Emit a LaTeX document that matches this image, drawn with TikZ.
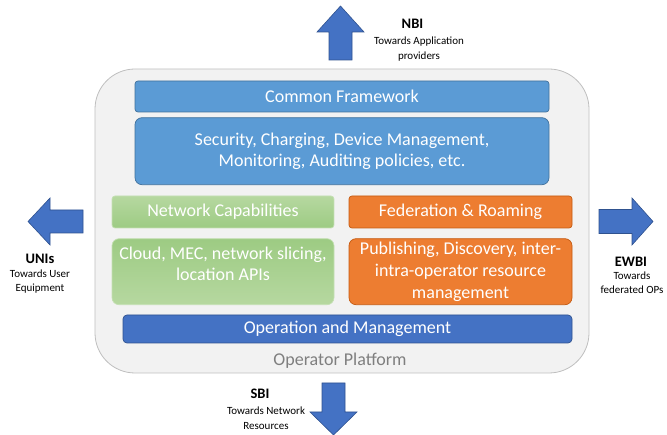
\documentclass[tikz,border=0pt]{standalone}
\usepackage{fontspec}
\setmainfont{Carlito}
\usepackage{xcolor}
\usepackage{tikz}
\usetikzlibrary{positioning}

\definecolor{cfblue}{HTML}{5B9BD5}
\definecolor{cfline}{HTML}{41719C}
\definecolor{omblue}{HTML}{4472C4}
\definecolor{omline}{HTML}{2F528F}
\definecolor{frorange}{HTML}{ED7D31}
\definecolor{frline}{HTML}{C55A11}
\definecolor{ncdark}{HTML}{9DCB83}
\definecolor{nclight}{HTML}{B6D8A0}
\definecolor{ncline}{HTML}{C5E0B4}
\definecolor{opfill}{HTML}{F2F2F2}
\definecolor{opline}{HTML}{BFBFBF}
\definecolor{optext}{HTML}{7F7F7F}

\begin{document}
\begin{tikzpicture}[x=1pt, y=-1pt,
        basebox/.style={draw, line width=0.7pt, text=white, align=center, inner sep=0pt,
            font=\fontsize{18}{21.6}\selectfont},
        headbox/.style={basebox, rounded corners=3pt, minimum height=31pt},
        bodybox/.style={basebox, rounded corners=7pt, minimum height=66pt},
        iftitle/.style={font=\fontsize{14.5}{16}\selectfont\bfseries, inner sep=0pt},
        ifnote/.style={font=\fontsize{11}{14.5}\selectfont, align=center, inner sep=0pt},
        ifarrow/.style={fill=omblue, draw=omline, line width=0.6pt}]
        \useasboundingbox (0,0) rectangle (667,435);

        % operator platform
        \node[draw=opline, fill=opfill, line width=0.8pt, rounded corners=40pt,
            minimum width=494pt, minimum height=304pt] (op) at (342,221) {};
        \node[text=optext, font=\fontsize{18}{21.6}\selectfont] (opname) at (340,361) {Operator Platform};

        \node[headbox, fill=cfblue, draw=cfline, minimum width=414pt] (cf) at (342,96.5) {Common Framework};
        \node[bodybox, fill=cfblue, draw=cfline, minimum width=414pt, minimum height=67pt,
            below=5pt of cf] (sec) {Security, Charging, Device Management,\\Monitoring, Auditing policies, etc.};

        \node[headbox, top color=nclight, bottom color=ncdark, draw=ncline,
            minimum width=222pt, minimum height=32pt] (nc) at (223,212) {Network Capabilities};
        \node[bodybox, top color=ncdark, bottom color=nclight, draw=ncline,
            minimum width=222pt, text depth=16pt, below=10pt of nc] (ncb) {Cloud, MEC, network slicing,\\location APIs};

        \node[headbox, fill=frorange, draw=frline, minimum width=223pt, minimum height=32pt] (fr) at (460.5,212) {Federation \& Roaming};
        \node[bodybox, fill=frorange, draw=frline, minimum width=223pt,
            below=10pt of fr] (frb) {Publishing, Discovery, inter-\\intra-operator resource\\management};

        \node[headbox, fill=omblue, draw=omline, rounded corners=4pt,
            minimum width=449pt, minimum height=28pt] (om) at (347.5,329) {Operation and Management};

        % interfaces
        \draw[ifarrow] (329,60) -- (329,32) -- (317,32) -- (340.5,6) -- (364,32) -- (352,32) -- (352,60) -- cycle;
        \draw[ifarrow] (322,383) -- (345,383) -- (345,412) -- (357,412) -- (333.5,435) -- (310,412) -- (322,412) -- cycle;
        \draw[ifarrow] (83,210) -- (50,210) -- (50,198) -- (28,221.5) -- (50,245) -- (50,233) -- (83,233) -- cycle;
        \draw[ifarrow] (599,209.5) -- (632,209.5) -- (632,198) -- (653,221.5) -- (632,245) -- (632,233.5) -- (599,233.5) -- cycle;

        \node[iftitle] (nbi) at (412.5,24) {NBI};
        \node[ifnote] (nbinote) at (419,49) {Towards Application\\providers};
        \node[iftitle] (sbi) at (260,394) {SBI};
        \node[ifnote] (sbinote) at (266,418) {Towards Network\\Resources};
        \node[iftitle] (uni) at (40,258.5) {UNIs};
        \node[ifnote] (uninote) at (40,281.5) {Towards User\\Equipment};
        \node[iftitle] (ewbi) at (631,262) {EWBI};
        \node[ifnote] (ewbinote) at (632,282.5) {Towards\\federated OPs};

\end{tikzpicture}
\end{document}
